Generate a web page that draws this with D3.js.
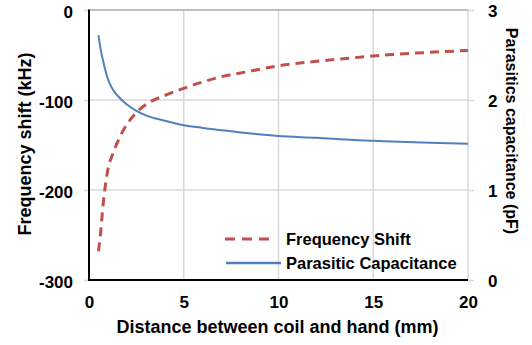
<!DOCTYPE html>
<html>
<head>
<meta charset="utf-8">
<script src="https://cdn.jsdelivr.net/npm/d3@7"></script>
<style>
  html, body { margin: 0; padding: 0; background: #fff; }
  svg { display: block; }
  text { font-family: "Liberation Sans", Arial, sans-serif; font-weight: bold; fill: #000; }
</style>
</head>
<body>
<svg id="chart" width="532" height="345"></svg>
<script>
// Distance between coil and hand (mm)
const distance = [0.5, 0.6, 0.75, 1, 1.25, 1.5, 2, 2.5, 3, 4, 5, 6, 7, 8, 10, 12, 14, 16, 18, 20];
// Frequency shift (kHz), left axis
const freqShift = [-268, -250, -215, -177, -160, -147, -127, -114, -105, -95, -87, -80, -74, -70, -62, -57, -53, -49.5, -47, -45];
// Parasitic capacitance (pF), right axis
const capacitance = [2.72, 2.58, 2.43, 2.23, 2.12, 2.05, 1.95, 1.88, 1.83, 1.77, 1.72, 1.69, 1.665, 1.64, 1.60, 1.58, 1.555, 1.54, 1.525, 1.515];

const xTicks = [0, 5, 10, 15, 20];
const leftTicks = [0, -100, -200, -300];
const rightTicks = [0, 1, 2, 3];

const seriesNames = ["Frequency Shift", "Parasitic Capacitance"];
const seriesColors = ["#C0504D", "#4F81BD"];

const svg = d3.select("#chart");
const plot = { left: 89, right: 468, top: 10, bottom: 280 };

const x = d3.scaleLinear().domain([0, 20]).range([plot.left, plot.right]);
const yL = d3.scaleLinear().domain([-300, 0]).range([plot.bottom, plot.top]);
const yR = d3.scaleLinear().domain([0, 3]).range([plot.bottom, plot.top]);

// plain hyphen-minus for negative tick labels
const fmt = d => String(d);

// gridlines
const grid = svg.append("g");
grid.selectAll("line.v").data(xTicks.filter(t => t > 0)).join("line")
  .attr("x1", d => x(d)).attr("x2", d => x(d))
  .attr("y1", plot.top).attr("y2", plot.bottom)
  .attr("stroke", "#d9d9d9").attr("stroke-width", 1.5);
grid.selectAll("line.h").data([-100, -200]).join("line")
  .attr("x1", plot.left).attr("x2", plot.right)
  .attr("y1", d => yL(d)).attr("y2", d => yL(d))
  .attr("stroke", "#d9d9d9").attr("stroke-width", 1.5);
// top border
grid.append("line")
  .attr("x1", plot.left).attr("x2", plot.right)
  .attr("y1", yL(0)).attr("y2", yL(0))
  .attr("stroke", "#7f7f7f").attr("stroke-width", 1.2);

function styleTicks(g) {
  g.select(".domain").remove();
  g.selectAll(".tick line").attr("stroke", "#d9d9d9").attr("stroke-width", 1.5);
  g.selectAll(".tick text").attr("font-size", 17)
    .attr("font-family", "Liberation Sans, Arial, sans-serif")
    .attr("font-weight", "bold").attr("fill", "#000");
}

// left axis
const gL = svg.append("g").attr("transform", `translate(${plot.left},0)`)
  .call(d3.axisLeft(yL).tickValues(leftTicks).tickSize(5).tickPadding(11).tickFormat(fmt));
styleTicks(gL);
gL.selectAll(".tick text").attr("dy", "0.45em");

// right axis
const gR = svg.append("g").attr("transform", `translate(${plot.right},0)`)
  .call(d3.axisRight(yR).tickValues(rightTicks).tickSize(6).tickPadding(14).tickFormat(fmt));
styleTicks(gR);
gR.selectAll(".tick text").attr("dy", "0.4em");

// bottom axis
const gB = svg.append("g").attr("transform", `translate(0,${plot.bottom})`)
  .call(d3.axisBottom(x).tickValues(xTicks).tickSize(0).tickPadding(16).tickFormat(fmt));
styleTicks(gB);

// axis lines
svg.append("line").attr("x1", plot.left).attr("x2", plot.left).attr("y1", plot.top - 0.5).attr("y2", plot.bottom + 1)
  .attr("stroke", "#000").attr("stroke-width", 2);
svg.append("line").attr("x1", plot.left - 1).attr("x2", plot.right).attr("y1", plot.bottom).attr("y2", plot.bottom)
  .attr("stroke", "#000").attr("stroke-width", 2);

// series
const idx = d3.range(distance.length);
const lineFreq = d3.line().x(i => x(distance[i])).y(i => yL(freqShift[i])).curve(d3.curveMonotoneX);
const lineCap = d3.line().x(i => x(distance[i])).y(i => yR(capacitance[i])).curve(d3.curveMonotoneX);

svg.append("path").attr("d", lineFreq(idx))
  .attr("fill", "none").attr("stroke", seriesColors[0]).attr("stroke-width", 3)
  .attr("stroke-dasharray", "9,6");
svg.append("path").attr("d", lineCap(idx))
  .attr("fill", "none").attr("stroke", seriesColors[1]).attr("stroke-width", 2);

// legend
const legend = svg.append("g");
const legendRows = [
  { y: 239, dash: "10,7", width: 3, x1: 225, x2: 273 },
  { y: 263, dash: null, width: 2.5, x1: 226, x2: 281 }
];
legendRows.forEach((r, i) => {
  const l = legend.append("line").attr("x1", r.x1).attr("x2", r.x2).attr("y1", r.y).attr("y2", r.y)
    .attr("stroke", seriesColors[i]).attr("stroke-width", r.width);
  if (r.dash) l.attr("stroke-dasharray", r.dash);
  legend.append("text").attr("x", 286).attr("y", r.y).attr("dy", "0.36em")
    .attr("font-size", 16.5).text(seriesNames[i]);
});

// axis titles
svg.append("text").attr("x", (plot.left + plot.right) / 2 - 1).attr("y", 333)
  .attr("text-anchor", "middle").attr("font-size", 18)
  .text("Distance between coil and hand (mm)");
svg.append("text").attr("transform", `translate(31,144) rotate(-90)`)
  .attr("text-anchor", "middle").attr("font-size", 18)
  .text("Frequency shift (kHz)");
svg.append("text").attr("transform", `translate(506,131) rotate(90)`)
  .attr("text-anchor", "middle").attr("font-size", 16)
  .text("Parasitics capacitance (pF)");
</script>
</body>
</html>
